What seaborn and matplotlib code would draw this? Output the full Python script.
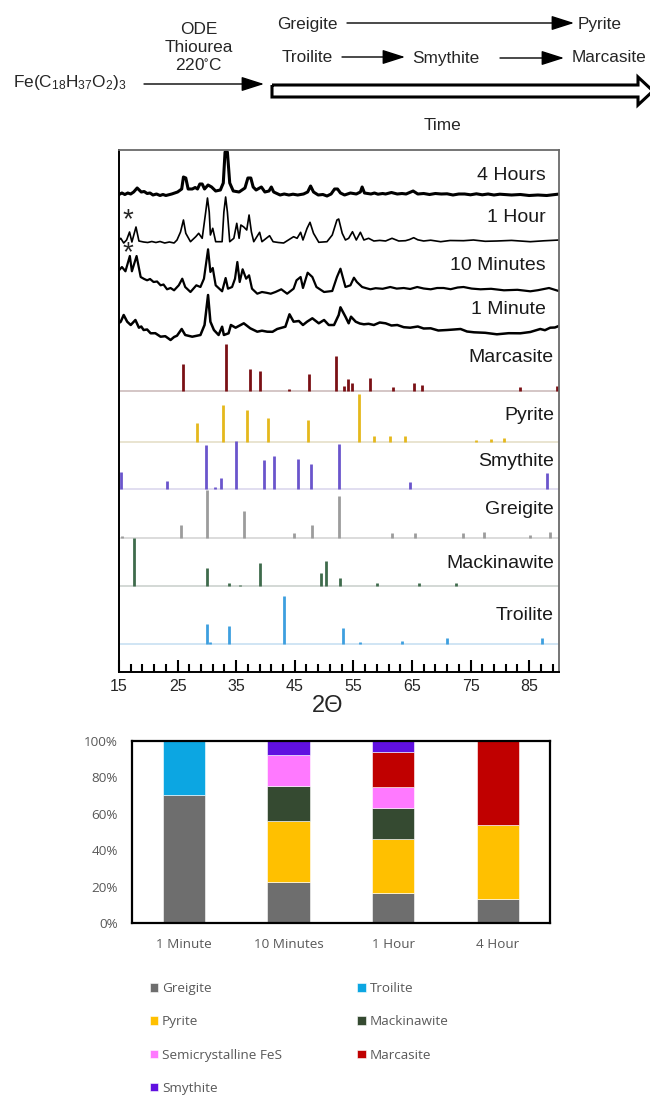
import seaborn as sns
import matplotlib.pyplot as plt
from matplotlib.patches import Polygon

## values: (2 theta, height)
trace_4h = [(15,2.5),(15.5,4),(16,2.5),(16.5,4),(17,3),(17.5,5),(18.1,9),(18.8,5),(19.3,5.5),(19.8,3.5),(20.3,4),(20.8,2),(21.4,3),(22,1.5),(22.5,2.5),(23,1.5),(24,3),(25,5),(25.7,8),(26,20),(26.4,19),(26.8,8),
    (27.5,8),(28,9.5),(28.4,8),(28.8,13),(29.2,13),(29.6,8),(30.2,12),(30.8,10),(31.5,6),(32.3,7),(32.8,14),(33.1,45),(33.5,45),(33.9,14),(34.5,6),(35.5,5),
    (36.5,9),(37,19),(37.5,19),(37.9,10),(38.4,7),(39,9),(39.3,10),(39.9,5),(40.6,6),(41,10),(41.4,5),(42.5,2),(43.2,3),(44,2),(44.7,2.8),(45.5,2),(46.5,3),(47.2,5),(47.7,11),
    (48.2,5),(49,2),(49.8,2.5),(50.5,1),(51.2,3),(51.8,8),(52.3,8),(52.8,4),(53.5,2),(54.5,4),(55.5,3),(56.2,5),(56.5,10),(56.9,4),(58,3),(58.6,4),(59.2,2.8),(60,3.5),(60.5,3),(61.5,4.5),
    (62.5,3),(63.3,3.5),(64,3),(65.2,6),(66,3),(67,3.5),(68,2.5),(69,3.5),(70,3),(71,3.2),(72,2),(73,3),(74,3),(75,2.2),(76,3.2),(77,2.2),(78,3),(79,2),(80,2.8),(82,2),(83.5,2.5),(85,1.5),(86.5,2),(88,1.5),(90.2,3)]
trace_1h = [(15,1),(15.3,2.7),(15.8,-2),(16.3,1),(16.8,9),(17.2,-1),(17.9,14),(18.4,0),(19.2,-1),(19.9,-1.5),(20.6,-.5),(21.3,-1.5),(22,-.5),(22.8,-2),(23.6,-1),(24.4,-2),(24.9,1),(25.5,9),(26,21),(26.4,7.7),(27.2,-0.7),(28.1,4.3),
    (28.6,7.7),(29.2,2.7),(29.8,29),(30.1,43),(30.4,29),(30.6,6),(31,12.7),(31.5,-0.7),(32.6,-0.7),(32.9,29),(33.2,44),(33.5,29),(33.9,-0.7),(34.6,2.7),(35.1,17.7),
    (35.5,2.7),(35.8,16),(36.3,14),(36.8,11),(37.2,26),(37.6,9),(38,-0.7),(39,8.7),(39.4,-0.7),(40.7,5.3),(41.3,-0.7),(42.2,-1.5),(43.1,-2),(44.8,4.3),(45.4,2.7),(46,8.7),
    (46.4,1),(47.1,12.7),(47.6,18.7),(48.2,7.7),(49.1,-1.3),(50.5,-0.7),(51.4,6),(52.2,21),(52.5,22),(53.1,7.7),(53.65,1),(54.2,2.7),(54.85,9.3),(55.5,1),(56.2,8.7),
    (56.8,1),(57.6,2.7),(58.5,0),(59.5,.6),(60.5,0),(61.6,2.7),(62.75,0),(63.9,.3),(64.6,1.5),(65.3,3.3),(66,1.2),(67,0),(68.2,.8),(69.9,-.7),(71.5,.5),(73.8,.3),(75.5,1),(77.5,-.3),(79.5,0),(82,.6),(85.2,-.7),(87.5,.2),(90.2,1)]
trace_10m = [(15,20.7),(15.5,24),(16.1,19.7),(16.85,35),(17.2,19.7),(18,35),(18.7,14),(19.3,12),(19.8,10.7),(20.3,12),(20.9,9),(21.5,9.5),(22.1,5.7),(22.6,6.5),(23.2,1.7),(23.8,3),(24.4,.7),(25.2,5.7),(25.8,12.3),(26.3,4),
    (27.2,-1),(28.2,5.7),(28.9,4),(29.5,12.3),(30.2,41.7),(30.6,19),(31,23),(31.5,5.7),(32.6,-.3),(33.2,13),(33.6,2.3),(34.3,4),(34.8,12.3),(35.2,29),(35.6,9),
    (36.1,21.7),(36.7,12.3),(37.2,15.7),(37.7,2.3),(38.6,-2.7),(39.4,-1),(40.2,-1.8),(40.9,-2.7),(41.7,-1),(42.7,1.7),(43.7,-2.7),(44.8,2.3),(45.3,10.7),(46,14),(46.4,3),(47.2,18.3),
    (48,14),(48.7,4),(50,-1),(51.4,0),(52.2,14),(52.8,22.3),(53.65,4),(54.5,5.7),(55.1,13.3),(55.6,9),(56.5,4),(57.2,2.8),(57.9,1.7),(58.8,2.8),(60,2.2),(61.3,4),(62.4,2.4),(63.6,3),(64.7,2),(65.9,4),(67,2.5),(68.2,1.7),
    (69.3,3),(70.4,3),(71.6,1.8),(72.8,3.5),(73.8,4),(75.2,2.4),(76.7,1.7),(78.5,2.2),(80.7,.7),(83,1.2),(85.2,-.3),(86.5,.8),(88.4,3),(90.2,-.3)]
trace_1m = [(15,12),(15.3,13.3),(15.8,20),(16.4,13.3),(17,10),(17.8,15),(18.4,7.3),(18.8,8.5),(19.2,5),(19.8,5.5),(20.4,1.7),(21.2,1.8),(22.1,-1.7),(22.9,-1.2),(23.8,-5),(24.4,-2),(24.9,-.7),(25.7,6),(26.3,0),(27.5,-1.7),
    (28.9,0),(29.6,10),(30.2,40),(30.6,13.3),(31.2,5),(32,0),(32.6,8.3),(32.9,0),(33.7,1.7),(34.1,10),(34.9,7.3),(36.3,11.7),(37.4,6.7),(38.6,3.3),(39.4,4.3),(40.3,3.3),(41.2,3.2),(42,6),
    (43.4,8.3),(44.1,20.7),(44.8,13.3),(45.7,14),(46.4,10),(47.1,13.3),(48,16.7),(49.1,11.7),(50,15),(50.8,10),(51.7,10),(52.5,20),(52.8,27.7),(53.65,18.3),(54.2,11.7),
    (54.6,18.3),(55.4,13.3),(56.1,11.5),(56.8,10.7),(57.6,11.2),(58.5,10),(59.5,12.5),(60.5,11.7),(61.5,9.5),(62.5,10),(63.6,7.8),(64.7,7.3),(66,8.5),(67,6.5),(68.2,6.7),(69.5,4.5),(71,5),(72.2,5.5),(73.3,6),(74.4,3.5),(75.6,2.7),(77.5,2.2),(79.5,.7),(81.5,1.8),(83.5,1.7),(85.2,3),(86.9,6),(87.7,4.8),(88.6,7.3),(89.4,7.5),(90.2,9.3)]

marcasite = [(25.95,27),(33.2,47),(37.3,22),(39,20),(44,2),(47.5,17),(52.05,35),(53.4,5),(54.1,12),(54.85,8),(57.8,13),(61.8,4),(65.3,8),(66.7,6),(83.5,4),(89.8,5)]
pyrite = [(28.3,19),(32.8,37),(36.8,32),(40.5,24),(47.2,22),(55.9,48),(58.6,6),(61.3,6),(63.9,6),(76,2),(78.5,3),(80.7,4)]
smythite = [(15.4,17),(23.2,8),(29.8,44),(31.4,2),(32.4,11),(34.9,48),(39.8,29),(41.5,33),(45.5,30),(47.7,25),(52.6,45),(64.7,7),(88.1,16)]
greigite = [(15.5,2),(25.5,13),(30,48),(36.4,27),(44.9,5),(47.9,13),(52.5,42),(61.6,5),(65.5,5),(73.7,5),(77.3,6),(85.1,3),(88.6,6)]
mackinawite = [(17.6,48),(30,18),(33.7,3),(35.7,1),(39,23),(49.5,13),(50.4,25),(52.8,8),(59,3),(66.2,3),(72.6,3)]
troilite = [(30,20),(30.5,2),(33.7,18),(43.2,48),(53.3,16),(56.2,2),(63.3,3),(70.9,6),(87.2,6)]

## (trace, offset, line width, label, label y in pixels, label right edge)
traces = [(trace_4h,475,2.2,'4 Hours',176,546),(trace_1h,431,1.2,'1 Hour',218,546),
          (trace_10m,381,1.6,'10 Minutes',266,546),(trace_1m,337,1.8,'1 Minute',310,546)]
refs = [(marcasite,281.3,'#7a1015','#cdbcbc','Marcasite',357.5),(pyrite,230.3,'#e5b81c','#e5dfc8','Pyrite',416),
        (smythite,183.3,'#6a55cc','#dcd8ee','Smythite',461.5),(greigite,134.3,'#9c9c9c','#d6d6d6','Greigite',509.5),
        (mackinawite,85.7,'#3f6b4c','#ccd2ce','Mackinawite',564),(troilite,27.7,'#3d9fdf','#c8e0f2','Troilite',616)]

## stacked composition chart
times = ['1 Minute','10 Minutes','1 Hour','4 Hour']
phases = ['Greigite','Troilite','Pyrite','Mackinawite','Semicrystalline FeS','Marcasite','Smythite']
greigite_pct = [70.4,22.3,16.5,13.3]
troilite_pct = [29.6,0,0,0]
pyrite_pct = [0,34,29.8,40.6]
mackinawite_pct = [0,18.8,16.8,0]
semi_pct = [0,17.4,11.7,0]
marcasite_pct = [0,0,19,46.1]
smythite_pct = [0,7.5,6.2,0]
pcts = [greigite_pct,troilite_pct,pyrite_pct,mackinawite_pct,semi_pct,marcasite_pct,smythite_pct]
colors = ['#6e6e6e','#0ca6e2','#ffc000','#354a31','#ff79ff','#c00000','#6010e0']

sns.set_style('white')
plt.rcParams['font.family'] = ['Liberation Sans','DejaVu Sans']
plt.rcParams['mathtext.default'] = 'regular'

W, H = 650, 1095
fig = plt.figure(figsize=(6.5,10.95), dpi=100)

def box(l, t, r, b):
    return [l/W, 1-b/H, (r-l)/W, (b-t)/H]

## XRD panel
ax = fig.add_axes(box(119,150,559,672))
for data, off, lw, name, ty, tx in traces:
    sns.lineplot(x=[p[0] for p in data], y=[p[1]+off for p in data], sort=False, estimator=None,
                 color='black', linewidth=lw, ax=ax)
for data, base, col, basecol, name, ty in refs:
    ax.axhline(base, color=basecol, lw=1.2, zorder=1)
    ax.vlines([p[0] for p in data], base, [base+p[1] for p in data], color=col, lw=2.0, zorder=2)
ax.set_xlim(15,90.1)
ax.set_ylim(0,522)
ax.set_yticks([])
ax.set_xticks(range(15,90,10))
ax.set_xticks(range(15,91,2), minor=True)
ax.tick_params(axis='x', which='major', direction='in', length=9, width=1.5, color='black', bottom=True, labelsize=11.5, pad=5)
ax.tick_params(axis='x', which='minor', direction='in', length=6, width=1.5, color='black', bottom=True)
for s in ['top','right']:
    ax.spines[s].set_color('#6a6a6a')
    ax.spines[s].set_linewidth(1.3)
for s in ['left','bottom']:
    ax.spines[s].set_color('black')
    ax.spines[s].set_linewidth(1.4)

## composition panel
ax2 = fig.add_axes(box(131.7,741,550,923))
bottom = [0,0,0,0]
for name, vals, col in zip(phases, pcts, colors):
    sns.barplot(x=times, y=vals, bottom=bottom, color=col, saturation=1, width=0.405, label=name,
                linewidth=0.4, ax=ax2, legend=False)
    bottom = [a+b for a,b in zip(bottom,vals)]
ax2.set_xlim(-0.5,3.5)
ax2.set_ylim(0,100)
ax2.set_yticks(range(0,101,20))
ax2.set_yticklabels([str(v)+'%' for v in range(0,101,20)])
ax2.tick_params(axis='both', length=0, labelsize=9.7, labelcolor='#595959')
ax2.tick_params(axis='x', pad=11)
ax2.tick_params(axis='y', pad=10)
for lab in ax2.get_xticklabels()+ax2.get_yticklabels():
    lab.set_family(['Open Sans','DejaVu Sans'])
for s in ax2.spines.values():
    s.set_color('black')
    s.set_linewidth(1.6)

hs, ls = ax2.get_legend_handles_labels()
order = ['Greigite','Pyrite','Semicrystalline FeS','Smythite','Troilite','Mackinawite','Marcasite']
hd = dict(zip(ls,hs))
fig.legend([hd[k] for k in order], order, ncol=2, loc='upper left', bbox_to_anchor=(144.5/W,1-977/H), borderaxespad=0,
           frameon=False, handlelength=0.6, handleheight=0.6, handletextpad=0.3, labelspacing=1.49, columnspacing=5.6,
           labelcolor='#595959', prop={'family':['Open Sans','DejaVu Sans'],'size':9.7})

## reaction scheme and labels, in picture pixels
top = fig.add_axes([0,0,1,1], facecolor='none')
top.set_xlim(0,W)
top.set_ylim(H,0)
top.axis('off')

def arrow(x0, x1, y):
    top.annotate('', xy=(x1,y), xytext=(x0,y), arrowprops=dict(arrowstyle='-|>,head_length=1.0,head_width=0.32', color='black', lw=1, shrinkA=0, shrinkB=0, mutation_scale=14))

fs = 12.4
top.text(13,83,r'Fe(C$_{18}$H$_{37}$O$_{2}$)$_{3}$',fontsize=fs,va='center')
top.text(199,29,'ODE',fontsize=fs,ha='center',va='center')
top.text(199,47,'Thiourea',fontsize=fs,ha='center',va='center')
top.text(199,65,r'220$^{\circ}$C',fontsize=fs,ha='center',va='center')
top.text(277,24,'Greigite',fontsize=fs,va='center')
top.text(578,24,'Pyrite',fontsize=fs,va='center')
top.text(282,58,'Troilite',fontsize=fs,va='center')
top.text(412,58,'Smythite',fontsize=fs,va='center')
top.text(572,58,'Marcasite',fontsize=fs,va='center')
top.text(442,125,'Time',fontsize=fs,ha='center',va='center')
arrow(144,264,84)
arrow(347,574,23)
arrow(342,405,57)
arrow(500,564,58)
top.add_patch(Polygon([(272,85),(638,85),(638,77),(653,91),(638,105),(638,97),(272,97)], closed=True, fill=False, edgecolor='black', lw=2.2))

for data, off, lw, name, ty, tx in traces:
    top.text(tx,ty,name,fontsize=14,ha='right',va='center',color='#1a1a1a')
for data, base, col, basecol, name, ty in refs:
    top.text(554,ty,name,fontsize=14,ha='right',va='center',color='#1a1a1a')
top.text(128,220,'*',fontsize=20,ha='center',va='center')
top.text(128,253,'*',fontsize=20,ha='center',va='center')
top.text(328,706,'2Θ',fontsize=17,ha='center',va='center')

plt.savefig('out.png', dpi=100)
